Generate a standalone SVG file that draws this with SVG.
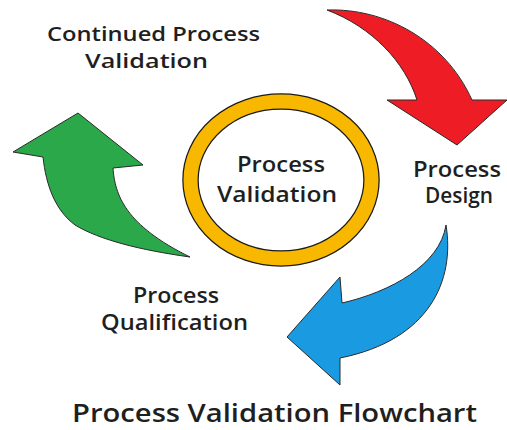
<svg xmlns="http://www.w3.org/2000/svg" width="507" height="430" viewBox="0 0 507 430">
<style>
  .lbl { font-family: "Open Sans", "Liberation Sans", sans-serif; font-weight: 600; fill: #1f1f1f; text-anchor: middle; font-size: 21px; }
  .small { font-size: 19.5px; }
  .title { font-size: 26px; }
  .arrow { stroke: #2a2a2a; stroke-width: 1; stroke-linejoin: miter; }
</style>
<rect width="507" height="430" fill="#ffffff"/>
<g id="connectors">
  <path id="red-arrow" class="arrow" fill="#EE1C25" d="M327,10 C385,8 445,40 472,100 L507,100 L457,145 L387,100 L417,100 C405,62 372,27 327,10 Z"/>
  <path id="blue-arrow" class="arrow" fill="#1A9AE0" d="M446,225 C455,280 430,340 340,358 L340,385 L287,337 L340,277 L342,303 C390,292 440,265 446,225 Z"/>
  <path id="green-arrow" class="arrow" fill="#2BA84A" d="M190,257 C140,250 100,240 75,225 C55,210 46,185 43,157 L13,152 L78,113 L143,165 L113,168 C115,195 125,225 190,257 Z"/>
</g>
<g id="node-center">
  <ellipse cx="281" cy="180" rx="90.5" ry="78.5" fill="#ffffff" stroke="#1a1a1a" stroke-width="16.5"/>
  <ellipse cx="281" cy="180" rx="90.5" ry="78.5" fill="none" stroke="#F9B800" stroke-width="14"/>
  <text class="lbl" x="281" y="172" textLength="88" lengthAdjust="spacingAndGlyphs">Process</text>
  <text class="lbl" x="277" y="202" textLength="120" lengthAdjust="spacingAndGlyphs">Validation</text>
</g>
<g id="node-design">
  <text class="lbl" x="457" y="177" textLength="88" lengthAdjust="spacingAndGlyphs">Process</text>
  <text class="lbl" x="459" y="203" textLength="68" lengthAdjust="spacingAndGlyphs">Design</text>
</g>
<g id="node-qualification">
  <text class="lbl" x="176" y="303" textLength="86" lengthAdjust="spacingAndGlyphs">Process</text>
  <text class="lbl" x="174.5" y="330" textLength="147" lengthAdjust="spacingAndGlyphs">Qualification</text>
</g>
<g id="node-continued">
  <text class="lbl small" x="153.5" y="41" textLength="213" lengthAdjust="spacingAndGlyphs">Continued Process</text>
  <text class="lbl small" x="146.5" y="68" textLength="123" lengthAdjust="spacingAndGlyphs">Validation</text>
</g>
<text class="lbl title" x="274.5" y="422" textLength="405" lengthAdjust="spacingAndGlyphs">Process Validation Flowchart</text>
</svg>
